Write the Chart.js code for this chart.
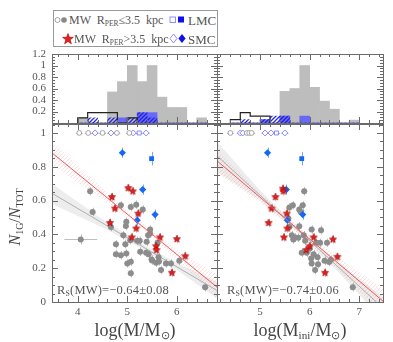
<!DOCTYPE html>
<html>
<head>
<meta charset="utf-8">
<script src="https://cdn.jsdelivr.net/npm/chart.js@4.4.1/dist/chart.umd.min.js"></script>
<style>
body { margin: 0; background: #fff; }
#wrap { position: relative; width: 393px; height: 342px; overflow: hidden; font-family: "Liberation Serif", serif; color: #555; }
canvas { position: absolute; left: 0; top: 0; }
.t { position: absolute; white-space: nowrap; line-height: 1; }
.t sub { font-size: 0.62em; vertical-align: -0.3em; line-height: 0; }
#legende { position: absolute; left: 53px; top: 10px; width: 163px; height: 35px; border: 1px solid #999; background: #fff; }
.sym { position: absolute; }
#ytitre { position: absolute; left: 6px; top: 190px; width: 18px; height: 54px; }
#ytitre div { position: absolute; left: 9px; top: 27px; white-space: nowrap; line-height: 1; font-size: 16px; color: #444;
              transform: translate(-50%, -50%) rotate(-90deg); }
#ytitre sub { font-size: 0.62em; vertical-align: -0.3em; line-height: 0; }
</style>
</head>
<body>
<div id="wrap">
  <canvas id="histL" width="393" height="342"></canvas>
  <canvas id="histR" width="393" height="342"></canvas>
  <canvas id="nuageL" width="393" height="342"></canvas>
  <canvas id="nuageR" width="393" height="342"></canvas>

  <div id="legende"></div>
  <!-- legende, ligne 1 -->
  <svg class="sym" style="left:54px;top:16px" width="14" height="8">
    <circle cx="3.5" cy="4" r="2.5" fill="#fff" stroke="#999" stroke-width="0.9"/>
    <circle cx="10" cy="4" r="2.8" fill="#888"/>
  </svg>
  <div class="t" style="left:69px;top:14px;font-size:12px;word-spacing:3px">MW R<sub>PER</sub>≤3.5 kpc</div>
  <svg class="sym" style="left:169px;top:15px" width="16" height="10">
    <rect x="1" y="2" width="5.5" height="5.5" fill="#fff" stroke="#8080ff" stroke-width="0.9"/>
    <rect x="9" y="1.5" width="6" height="6" fill="#1010ee"/>
  </svg>
  <div class="t" style="left:188px;top:14px;font-size:13px">LMC</div>
  <!-- legende, ligne 2 -->
  <svg class="sym" style="left:62px;top:33px" width="12" height="12">
    <polygon points="6,0.5 7.4,4.3 11.4,4.3 8.2,6.8 9.4,10.8 6,8.4 2.6,10.8 3.8,6.8 0.6,4.3 4.6,4.3" fill="#e52020" stroke="#a00" stroke-width="0.6"/>
  </svg>
  <div class="t" style="left:74px;top:33px;font-size:12px;word-spacing:3px">MW R<sub>PER</sub>&gt;3.5 kpc</div>
  <svg class="sym" style="left:169px;top:33px" width="18" height="12">
    <polygon points="4.5,1 8,5.5 4.5,10 1,5.5" fill="#fff" stroke="#8080ff" stroke-width="0.9"/>
    <polygon points="13,1 16.6,5.5 13,10 9.4,5.5" fill="#1010ee"/>
  </svg>
  <div class="t" style="left:188px;top:33px;font-size:13px">SMC</div>

  <div class="t" style="left:57px;top:284px;font-size:12.5px;letter-spacing:0.2px">R<sub>S</sub>(MW)=−0.64±0.08</div>
  <div class="t" style="left:227px;top:284px;font-size:12.5px;letter-spacing:0.2px">R<sub>S</sub>(MW)=−0.74±0.06</div>

  <div class="t" style="left:135px;top:330px;font-size:18px;color:#444;transform:translate(-50%,-50%)">log(M/M<sub>⊙</sub>)</div>
  <div class="t" style="left:300px;top:330px;font-size:18px;color:#444;transform:translate(-50%,-50%)">log(M<sub>ini</sub>/M<sub>⊙</sub>)</div>
  <div id="ytitre"><div><i>N</i><sub>1G</sub>/<i>N</i><sub>TOT</sub></div></div>
</div>

<script>
// ---- histogrammes (centres des bins de 0.2 dex) ----
const binsL = [4.1, 4.3, 4.5, 4.7, 4.9, 5.1, 5.3, 5.5, 5.7, 5.9, 6.1, 6.3, 6.5];
const histMwL = [0.09, 0, 0, 0.54, 0.72, 1.0, 0.72, 1.0, 0.45, 0.27, 0.27, 0, 0.09];
const histMcL = [0, 0, 0, 0, 0.09, 0, 0.18, 0.18, 0, 0, 0, 0, 0];
const histMcOpenL = [0, 0.09, 0, 0.09, 0, 0.09, 0.18, 0.09, 0, 0, 0, 0, 0];
const edgesOutL = [4.0, 4.2, 4.4, 4.6, 4.8, 5.0, 5.2];
const histOutL = [0.09, 0.18, 0.18, 0.18, 0, 0.09, 0];

const binsR = [4.5, 4.7, 4.9, 5.1, 5.3, 5.5, 5.7, 5.9, 6.1, 6.3, 6.5, 6.7, 6.9];
const histMwR = [0, 0, 0, 0, 0, 0.55, 0.6, 1.0, 0.62, 0.38, 0.24, 0, 0.05];
const histMcR = [0, 0, 0, 0.06, 0, 0.12, 0, 0.12, 0, 0, 0, 0, 0];
const histMcOpenR = [0, 0.06, 0, 0.06, 0.12, 0.12, 0, 0, 0, 0, 0, 0, 0];
const edgesOutR = [4.4, 4.6, 4.8, 5.0, 5.2];
const histOutR = [0.06, 0.18, 0.12, 0.12, 0];

const histYTicks = [0.2, 0.4, 0.6, 0.8, 1, 1.2];
const nuageYTicks = [0, 0.2, 0.4, 0.6, 0.8, 1];
const xTicksL = [4, 5, 6];
const xTicksR = [5, 6, 7];

// ---- panneau gauche : log(M/Msun) ----
const mwXL = [4.25, 4.30, 4.87, 5.07, 5.18, 5.31, 4.67, 4.98, 4.97, 5.46, 5.46, 4.92, 4.77, 4.96, 5.06, 5.20, 5.25, 5.39, 5.42, 5.61,
              4.98, 5.26, 5.38, 5.43, 4.77, 4.87, 5.00, 5.07, 5.49, 5.50, 5.63, 5.58, 5.64, 5.78, 5.88, 6.05, 5.68, 6.57, 5.07];
const mwYL = [0.655, 0.533, 0.572, 0.562, 0.576, 0.547, 0.444, 0.474, 0.450, 0.429, 0.405, 0.395, 0.342, 0.342, 0.366, 0.362, 0.362, 0.356, 0.395, 0.350,
              0.287, 0.297, 0.291, 0.283, 0.283, 0.277, 0.228, 0.238, 0.252, 0.245, 0.264, 0.232, 0.240, 0.228, 0.228, 0.244, 0.189, 0.087, 0.170];
const mwWideXL = [4.06];
const mwWideYL = [0.37];
const starXL = [4.69, 5.02, 5.11, 4.75, 5.22, 4.65, 5.18, 5.66, 6.00, 5.09, 5.58, 5.59, 6.17, 5.90];
const starYL = [0.621, 0.674, 0.655, 0.553, 0.523, 0.468, 0.435, 0.382, 0.372, 0.382, 0.330, 0.307, 0.271, 0.173];
const lmcXL = [5.49], lmcYL = [0.848];
const smcXL = [4.90, 5.31, 5.56, 5.20], smcYL = [0.883, 0.665, 0.517, 0.484];
const openMwXL = [4.03, 4.21, 4.50, 4.79, 5.04], openMwYL = [1, 1, 1, 1, 1];
const openSmcXL = [4.35, 4.67, 5.12, 5.38], openSmcYL = [1, 1, 1, 1];
const openLmcXL = [5.24], openLmcYL = [1];
const fitXL = [3.48, 6.81];
const fitRedL = [0.882, 0.088];
const fitGrayL = [0.643, 0.068];
const bandXL = [3.48, 4.5, 5.2, 6.0, 6.81];
const redUpL = [0.95, 0.67, 0.49, 0.31, 0.16];
const redLoL = [0.81, 0.61, 0.46, 0.25, 0.02];
const grayUpL = [0.70, 0.49, 0.36, 0.23, 0.12];
const grayLoL = [0.58, 0.44, 0.33, 0.19, 0.02];

// ---- panneau droit : log(Mini/Msun) ----
const mwXR = [5.89, 5.86, 5.66, 5.59, 5.79, 5.82, 5.57, 5.59, 5.79, 6.04, 6.23, 5.64, 5.88, 5.71, 5.67, 5.77, 5.91, 6.13, 6.21, 6.35,
              6.00, 5.84, 5.94, 6.08, 6.03, 6.16, 6.30, 6.39, 6.43, 6.04, 6.17, 6.11, 6.87];
const mwYR = [0.655, 0.572, 0.572, 0.559, 0.547, 0.533, 0.494, 0.444, 0.448, 0.429, 0.425, 0.395, 0.395, 0.382, 0.370, 0.380, 0.362, 0.350, 0.350, 0.350,
              0.316, 0.291, 0.291, 0.283, 0.258, 0.264, 0.244, 0.236, 0.250, 0.228, 0.224, 0.189, 0.087];
const starXR = [5.46, 5.47, 5.31, 5.23, 5.54, 5.17, 5.55, 5.48, 6.08, 6.47, 6.00, 5.93, 6.56, 6.31];
const starYR = [0.670, 0.655, 0.621, 0.553, 0.523, 0.468, 0.435, 0.382, 0.382, 0.370, 0.330, 0.307, 0.267, 0.173];
const lmcXR = [5.84], lmcYR = [0.848];
const smcXR = [5.15, 5.53, 5.86, 5.55], smcYR = [0.883, 0.665, 0.517, 0.484];
const openMwXR = [4.40, 4.73, 4.78, 4.83], openMwYR = [1, 1, 1, 1];
const openSmcXR = [4.60, 4.65, 5.10, 5.22, 5.50], openSmcYR = [1, 1, 1, 1, 1];
const openLmcXR = [5.33], openLmcYR = [1];
const fitXR = [4.13, 7.48];
const fitRedR = [0.835, 0.005];
const fitGrayR = [0.865, -0.036];
const bandXR = [4.13, 5.0, 5.8, 6.6, 7.48];
const redUpR = [0.90, 0.645, 0.44, 0.26, 0.08];
const redLoR = [0.76, 0.59, 0.40, 0.185, -0.08];
const grayUpR = [0.95, 0.66, 0.43, 0.23, 0.03];
const grayLoR = [0.77, 0.60, 0.40, 0.17, -0.11];

// ---- outils ----
const pts = (xs, ys) => xs.map((x, i) => ({ x: x, y: ys[i] }));

function hachures(color, width) {
  const c = document.createElement('canvas');
  c.width = c.height = 4;
  const g = c.getContext('2d');
  g.strokeStyle = color;
  g.lineWidth = width;
  g.beginPath();
  g.moveTo(0, 4); g.lineTo(4, 0);
  g.moveTo(-1, 1); g.lineTo(1, -1);
  g.moveTo(3, 5); g.lineTo(5, 3);
  g.stroke();
  return g.createPattern(c, 'repeat');
}

function etoile(r, fill, stroke) {
  const c = document.createElement('canvas');
  const s = Math.ceil(r * 2 + 2);
  c.width = c.height = s;
  const g = c.getContext('2d');
  g.beginPath();
  for (let i = 0; i < 10; i++) {
    const rr = i % 2 ? r * 0.45 : r;
    const a = -Math.PI / 2 + i * Math.PI / 5;
    g.lineTo(s / 2 + rr * Math.cos(a), s / 2 + rr * Math.sin(a));
  }
  g.closePath();
  g.fillStyle = fill; g.fill();
  g.strokeStyle = stroke; g.lineWidth = 0.6; g.stroke();
  return c;
}

const hachBleu = hachures('rgba(30,30,215,0.95)', 1.3);
const hachRose = hachures('rgba(240,110,110,0.22)', 1);
const star = etoile(3.8, '#e52020', '#a30000');

// cadre, graduations vers l'interieur et etiquettes
const cadre = {
  id: 'cadre',
  afterDatasetsDraw(chart, args, o) {
    const { ctx, chartArea: a } = chart;
    const sx = chart.scales.x, sy = chart.scales.y;
    ctx.save();
    ctx.strokeStyle = '#6a6a6a';
    ctx.lineWidth = 1;
    ctx.beginPath();
    for (let k = Math.ceil(sx.min / o.xMinor - 1e-6); k * o.xMinor <= sx.max + 1e-9; k++) {
      const v = k * o.xMinor;
      const maj = Math.abs(v / o.xMajor - Math.round(v / o.xMajor)) < 1e-6;
      const len = maj ? 6 : 3;
      const px = Math.round(sx.getPixelForValue(v)) + 0.5;
      ctx.moveTo(px, a.bottom); ctx.lineTo(px, a.bottom - len);
      ctx.moveTo(px, a.top); ctx.lineTo(px, a.top + len);
    }
    for (let k = Math.ceil(sy.min / o.yMinor - 1e-6); k * o.yMinor <= sy.max + 1e-9; k++) {
      const v = k * o.yMinor;
      const maj = Math.abs(v / o.yMajor - Math.round(v / o.yMajor)) < 1e-6;
      const len = maj ? 6 : 3;
      const py = Math.round(sy.getPixelForValue(v)) + 0.5;
      ctx.moveTo(a.left, py); ctx.lineTo(a.left + len, py);
      ctx.moveTo(a.right, py); ctx.lineTo(a.right - len, py);
    }
    ctx.stroke();
    ctx.strokeRect(Math.round(a.left) + 0.5, Math.round(a.top) + 0.5,
                   Math.round(a.right - a.left), Math.round(a.bottom - a.top));
    ctx.fillStyle = '#555';
    ctx.font = '11px "Liberation Serif", serif';
    if (o.yLabels) {
      ctx.textAlign = 'right'; ctx.textBaseline = 'middle';
      o.yLabels.forEach(v => ctx.fillText(String(v), a.left - 6, sy.getPixelForValue(v)));
    }
    if (o.xLabels) {
      ctx.textAlign = 'center'; ctx.textBaseline = 'middle';
      o.xLabels.forEach(v => ctx.fillText(String(v), sx.getPixelForValue(v), a.bottom + 10));
    }
    ctx.restore();
  }
};

// barres d'erreur (sous les points)
const barres = {
  id: 'barres',
  beforeDatasetsDraw(chart) {
    const { ctx, chartArea: a } = chart;
    const sx = chart.scales.x, sy = chart.scales.y;
    ctx.save();
    ctx.beginPath();
    ctx.rect(a.left, a.top, a.right - a.left, a.bottom - a.top);
    ctx.clip();
    chart.data.datasets.forEach(ds => {
      if (!ds.errX && !ds.errY) return;
      ctx.strokeStyle = ds.errColor || 'rgba(170,170,170,0.75)';
      ctx.lineWidth = 1;
      ctx.beginPath();
      ds.data.forEach(p => {
        const x = sx.getPixelForValue(p.x), y = sy.getPixelForValue(p.y);
        if (ds.errX) {
          ctx.moveTo(sx.getPixelForValue(p.x - ds.errX), Math.round(y) + 0.5);
          ctx.lineTo(sx.getPixelForValue(p.x + ds.errX), Math.round(y) + 0.5);
        }
        if (ds.errY) {
          ctx.moveTo(Math.round(x) + 0.5, sy.getPixelForValue(p.y - ds.errY));
          ctx.lineTo(Math.round(x) + 0.5, sy.getPixelForValue(p.y + ds.errY));
        }
      });
      ctx.stroke();
    });
    ctx.restore();
  }
};

// axes invisibles : la zone de trace = canvas moins le padding
const axe = (min, max) => ({ type: 'linear', display: false, min: min, max: max, offset: false });

function zone(gauche, top, bottom) {
  return { left: gauche ? 52 : 217, right: gauche ? 393 - 217 : 393 - 383, top: top, bottom: 342 - bottom };
}

function histo(id, gauche, bins, mw, mc, mcOpen, edges, out, xmin, xmax) {
  const outline = [{ x: edges[0], y: 0 }].concat(pts(edges, out));
  new Chart(document.getElementById(id), {
    type: 'bar',
    data: {
      datasets: [
        { data: pts(bins, mw), backgroundColor: '#bdbdbd', borderWidth: 0, order: 4 },
        { data: pts(bins, mc), backgroundColor: 'rgba(95,95,255,0.9)', borderWidth: 0, order: 3 },
        { data: pts(bins, mcOpen), backgroundColor: hachBleu, borderWidth: 0, order: 2 },
        { type: 'line', data: outline, stepped: 'before', borderColor: '#222', borderWidth: 1.2,
          pointRadius: 0, fill: false, order: 1 }
      ]
    },
    options: {
      responsive: false, animation: false,
      layout: { padding: zone(gauche, 54, 123) },
      datasets: { bar: { grouped: false, categoryPercentage: 1, barPercentage: 1 } },
      scales: { x: axe(xmin, xmax), y: axe(0, 1.2) },
      plugins: { legend: { display: false }, tooltip: { enabled: false },
                 cadre: { xMinor: 0.2, xMajor: 1, yMinor: 0.05, yMajor: 0.2, yLabels: gauche ? histYTicks : null } }
    },
    plugins: [cadre]
  });
}

function nuage(id, gauche, d, xmin, xmax, xticks) {
  const bleu = 'rgb(20,105,245)';
  const sets = [
    // bandes de confiance
    { type: 'line', data: pts(d.bandX, d.grayUp), borderWidth: 0, pointRadius: 0, fill: false, order: 9 },
    { type: 'line', data: pts(d.bandX, d.grayLo), borderWidth: 0, pointRadius: 0, fill: '-1',
      backgroundColor: 'rgba(0,0,0,0.07)', order: 9 },
    { type: 'line', data: pts(d.bandX, d.redUp), borderWidth: 0, pointRadius: 0, fill: false, order: 8 },
    { type: 'line', data: pts(d.bandX, d.redLo), borderWidth: 0, pointRadius: 0, fill: '-1',
      backgroundColor: hachRose, order: 8 },
    // droites
    { type: 'line', data: pts(d.fitX, d.fitGray), borderColor: 'rgb(175,175,175)', borderWidth: 1, pointRadius: 0, fill: false, order: 7 },
    { type: 'line', data: pts(d.fitX, d.fitRed), borderColor: 'rgb(240,90,90)', borderWidth: 1, pointRadius: 0, fill: false, order: 1 },
    // points
    { data: pts(d.mwX, d.mwY), pointStyle: 'circle', pointRadius: 3, backgroundColor: '#8c8c8c', borderWidth: 0,
      errX: 0.06, errY: 0.025, order: 3 },
    { data: pts(d.starX, d.starY), pointStyle: star, errX: 0.06, errY: 0.025, order: 2 },
    { data: pts(d.smcX, d.smcY), pointStyle: 'rectRot', pointRadius: 3.6, backgroundColor: bleu, borderWidth: 0,
      errX: 0.04, errY: 0.03, errColor: 'rgba(60,130,245,0.7)', order: 2 },
    { data: pts(d.lmcX, d.lmcY), pointStyle: 'rect', pointRadius: 3.4, backgroundColor: bleu, borderWidth: 0,
      errX: 0.04, errY: 0.04, errColor: 'rgba(60,130,245,0.7)', order: 2 },
    { data: pts(d.openMwX, d.openMwY), pointStyle: 'circle', pointRadius: 2.4, backgroundColor: '#fff',
      borderColor: '#9a9a9a', borderWidth: 0.9, errX: 0.07, order: 2 },
    { data: pts(d.openSmcX, d.openSmcY), pointStyle: 'rectRot', pointRadius: 3, backgroundColor: '#fff',
      borderColor: '#7d7dff', borderWidth: 0.9, errX: 0.07, errColor: 'rgba(140,140,255,0.8)', order: 2 },
    { data: pts(d.openLmcX, d.openLmcY), pointStyle: 'rect', pointRadius: 2.8, backgroundColor: '#fff',
      borderColor: '#7d7dff', borderWidth: 0.9, errX: 0.07, errColor: 'rgba(140,140,255,0.8)', order: 2 }
  ];
  if (d.wideX) {
    sets.push({ data: pts(d.wideX, d.wideY), pointStyle: 'circle', pointRadius: 3, backgroundColor: '#8c8c8c',
                borderWidth: 0, errX: 0.33, errY: 0.03, order: 3 });
  }
  new Chart(document.getElementById(id), {
    type: 'scatter',
    data: { datasets: sets },
    options: {
      responsive: false, animation: false,
      layout: { padding: zone(gauche, 124, 302) },
      elements: { line: { tension: 0 } },
      scales: { x: axe(xmin, xmax), y: axe(0, 1.053) },
      plugins: { legend: { display: false }, tooltip: { enabled: false },
                 cadre: { xMinor: 0.2, xMajor: 1, yMinor: 0.05, yMajor: 0.2,
                          xLabels: xticks, yLabels: gauche ? nuageYTicks : null } }
    },
    plugins: [barres, cadre]
  });
}

histo('histL', true, binsL, histMwL, histMcL, histMcOpenL, edgesOutL, histOutL, 3.48, 6.81);
histo('histR', false, binsR, histMwR, histMcR, histMcOpenR, edgesOutR, histOutR, 4.13, 7.48);

nuage('nuageL', true, {
  mwX: mwXL, mwY: mwYL, wideX: mwWideXL, wideY: mwWideYL, starX: starXL, starY: starYL,
  lmcX: lmcXL, lmcY: lmcYL, smcX: smcXL, smcY: smcYL,
  openMwX: openMwXL, openMwY: openMwYL, openSmcX: openSmcXL, openSmcY: openSmcYL, openLmcX: openLmcXL, openLmcY: openLmcYL,
  fitX: fitXL, fitRed: fitRedL, fitGray: fitGrayL,
  bandX: bandXL, redUp: redUpL, redLo: redLoL, grayUp: grayUpL, grayLo: grayLoL
}, 3.48, 6.81, xTicksL);

nuage('nuageR', false, {
  mwX: mwXR, mwY: mwYR, starX: starXR, starY: starYR,
  lmcX: lmcXR, lmcY: lmcYR, smcX: smcXR, smcY: smcYR,
  openMwX: openMwXR, openMwY: openMwYR, openSmcX: openSmcXR, openSmcY: openSmcYR, openLmcX: openLmcXR, openLmcY: openLmcYR,
  fitX: fitXR, fitRed: fitRedR, fitGray: fitGrayR,
  bandX: bandXR, redUp: redUpR, redLo: redLoR, grayUp: grayUpR, grayLo: grayLoR
}, 4.13, 7.48, xTicksR);
</script>
</body>
</html>
